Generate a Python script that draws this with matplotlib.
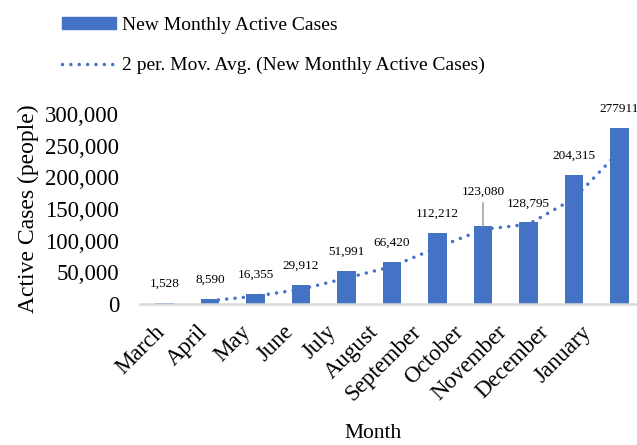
import matplotlib
matplotlib.use("Agg")
import matplotlib.pyplot as plt
from matplotlib.patches import Patch
from matplotlib.lines import Line2D

plt.rcParams['font.family'] = ['Liberation Serif', 'DejaVu Serif']

months = ["March", "April", "May", "June", "July", "August", "September",
          "October", "November", "December", "January"]
cases = [1528, 8590, 16355, 29912, 51991, 66420, 112212, 123080, 128795,
         204315, 277911]
case_labels = ["1,528", "8,590", "16,355", "29,912", "51,991", "66,420",
               "112,212", "123,080", "128,795", "204,315", "277911"]
y_ticks = [0, 50000, 100000, 150000, 200000, 250000, 300000]
y_tick_labels = ["0", "50,000", "100,000", "150,000", "200,000", "250,000", "300,000"]

BLUE = "#4472C4"

# 2 period moving average
ma_x = list(range(1, len(cases)))
ma_y = [(cases[i - 1] + cases[i]) / 2 for i in ma_x]

fig = plt.figure(figsize=(6.37, 4.45), dpi=100)
ax = fig.add_axes([140 / 637, 141 / 445, 504 / 637, 190 / 445])

x = list(range(len(months)))
ax.bar(x, cases, width=0.4, color=BLUE, zorder=2)
ax.plot(ma_x, ma_y, color=BLUE, lw=2.5, linestyle=(0, (0.01, 2.4)),
        dash_capstyle='round', zorder=3)

for i, (v, lab) in enumerate(zip(cases, case_labels)):
    if months[i] == "October":
        ax.annotate(lab, xy=(i, v), xytext=(0, 25), textcoords='offset points',
                    ha='center', va='center', fontsize=9.5,
                    arrowprops=dict(arrowstyle='-', color='#A6A6A6', lw=1.2,
                                    shrinkA=2, shrinkB=0))
    else:
        ax.annotate(lab, xy=(i, v), xytext=(0, 13.7), textcoords='offset points',
                    ha='center', va='center', fontsize=9.5, annotation_clip=False)

ax.set_xlim(-0.54, 10.54)
ax.set_ylim(0, 300000)
ax.set_yticks(y_ticks)
ax.set_yticklabels(y_tick_labels, fontsize=16.5)
# month labels sit a little tighter than the bars, as in the original
label_pos = [-0.22 + 0.9384 * i for i in x]
ax.set_xticks(label_pos)
ax.set_xticklabels(months, fontsize=16.5, rotation=45, ha='right',
                   rotation_mode='anchor')
ax.tick_params(axis='both', length=0)
ax.tick_params(axis='y', pad=15)
ax.tick_params(axis='x', pad=12.5)

for s in ['top', 'right', 'left']:
    ax.spines[s].set_visible(False)
ax.spines['bottom'].set_color('#D9D9D9')
ax.spines['bottom'].set_linewidth(1.8)

ax.set_ylabel("Active Cases (people)", fontsize=17)
ax.yaxis.set_label_coords(-0.2, 0.5)
fig.text(373 / 637, 1 - 433 / 445, "Month", fontsize=15.5, ha='center', va='center')

handles = [Patch(color=BLUE),
           Line2D([0], [0], color=BLUE, lw=2.5, linestyle=(0, (0.01, 2.4)),
                  dash_capstyle='round')]
labels = ["New Monthly Active Cases",
          "2 per. Mov. Avg. (New Monthly Active Cases)"]
fig.legend(handles, labels, loc='upper left', bbox_to_anchor=(48 / 637, 1 - 3 / 445),
           frameon=False, fontsize=14, handlelength=2.8, handleheight=0.6,
           handletextpad=0.3, labelspacing=1.2, borderaxespad=0.3)

fig.savefig("out.png", dpi=100)
